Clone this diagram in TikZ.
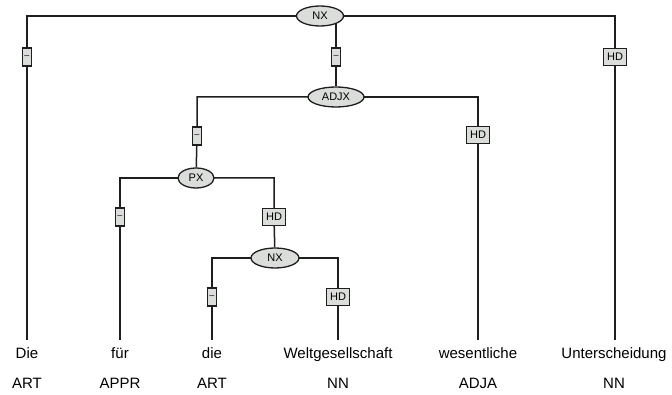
\documentclass[tikz,border=0pt]{standalone}
\usepackage{fontspec}
\setmainfont{Liberation Sans}
\usetikzlibrary{shapes.geometric,backgrounds}
\definecolor{nodefill}{RGB}{218,221,218}
\definecolor{linecol}{RGB}{30,30,30}
\begin{document}
\begin{tikzpicture}[x=1pt,y=-1pt,
  cat/.style={ellipse,draw=linecol,fill=nodefill,line width=1.3pt,inner sep=0pt,minimum height=20pt,font=\fontsize{11}{12}\selectfont},
  dashlab/.style={rectangle,draw=linecol,fill=nodefill,line width=1.3pt,inner sep=0pt,minimum width=9pt,minimum height=18pt,font=\fontsize{9}{10}\selectfont},
  hdlab/.style={rectangle,draw=linecol,fill=nodefill,line width=1.3pt,inner sep=0pt,minimum width=23pt,minimum height=17pt,font=\fontsize{11}{12}\selectfont},
  word/.style={inner sep=0pt,anchor=base,font=\fontsize{15}{17}\selectfont},
  tag/.style={inner sep=0pt,anchor=base,font=\fontsize{15}{17}\selectfont},
  conn/.style={draw=linecol,line width=1.5pt}]
\useasboundingbox (0,0) rectangle (672,395);
% categories
\node[cat,minimum width=47pt] (nxa) at (320,16) {NX};
\node[cat,minimum width=56pt] (adjx) at (336,97) {ADJX};
\node[cat,minimum width=36pt] (px) at (196,178) {PX};
\node[cat,minimum width=48pt] (nxb) at (275,258) {NX};
% edge labels
\node[dashlab] (l1) at (27,57) {–};
\node[dashlab] (l2) at (336,57) {–};
\node[hdlab] (l3) at (615,57) {HD};
\node[dashlab] (l4) at (197,136) {–};
\node[hdlab] (l5) at (478,135) {HD};
\node[dashlab] (l6) at (120,217) {–};
\node[hdlab] (l7) at (274,217) {HD};
\node[dashlab] (l8) at (212,297) {–};
\node[hdlab] (l9) at (338,297) {HD};
% words
\node[word] (w1) at (27,358) {Die};
\node[word] (w2) at (120,358) {für};
\node[word] (w3) at (212,358) {die};
\node[word] (w4) at (338,358) {Weltgesellschaft};
\node[word] (w5) at (478,358) {wesentliche};
\node[word] (w6) at (614,358) {Unterscheidung};
% tags
\node[tag] (t1) at (27,388) {ART};
\node[tag] (t2) at (120,388) {APPR};
\node[tag] (t3) at (212,388) {ART};
\node[tag] (t4) at (338,388) {NN};
\node[tag] (t5) at (478,388) {ADJA};
\node[tag] (t6) at (614,388) {NN};
% terminal coordinates
\coordinate (e1) at (27,340);
\coordinate (e2) at (120,340);
\coordinate (e3) at (212,340);
\coordinate (e4) at (338,340);
\coordinate (e5) at (478,340);
\coordinate (e6) at (615,340);
\begin{scope}[on background layer]
  \draw[conn] (nxa.center) -| (l1) -- (e1);
  \draw[conn] (nxa.center) -| (l3) -- (e6);
  \draw[conn] (l2 |- nxa.center) -- (l2) -- (adjx);
  \draw[conn] (adjx.center) -| (l4) -- (px);
  \draw[conn] (adjx.center) -| (l5) -- (e5);
  \draw[conn] (px.center) -| (l6) -- (e2);
  \draw[conn] (px.center) -| (l7) -- (nxb);
  \draw[conn] (nxb.center) -| (l8) -- (e3);
  \draw[conn] (nxb.center) -| (l9) -- (e4);
\end{scope}
\end{tikzpicture}
\end{document}
